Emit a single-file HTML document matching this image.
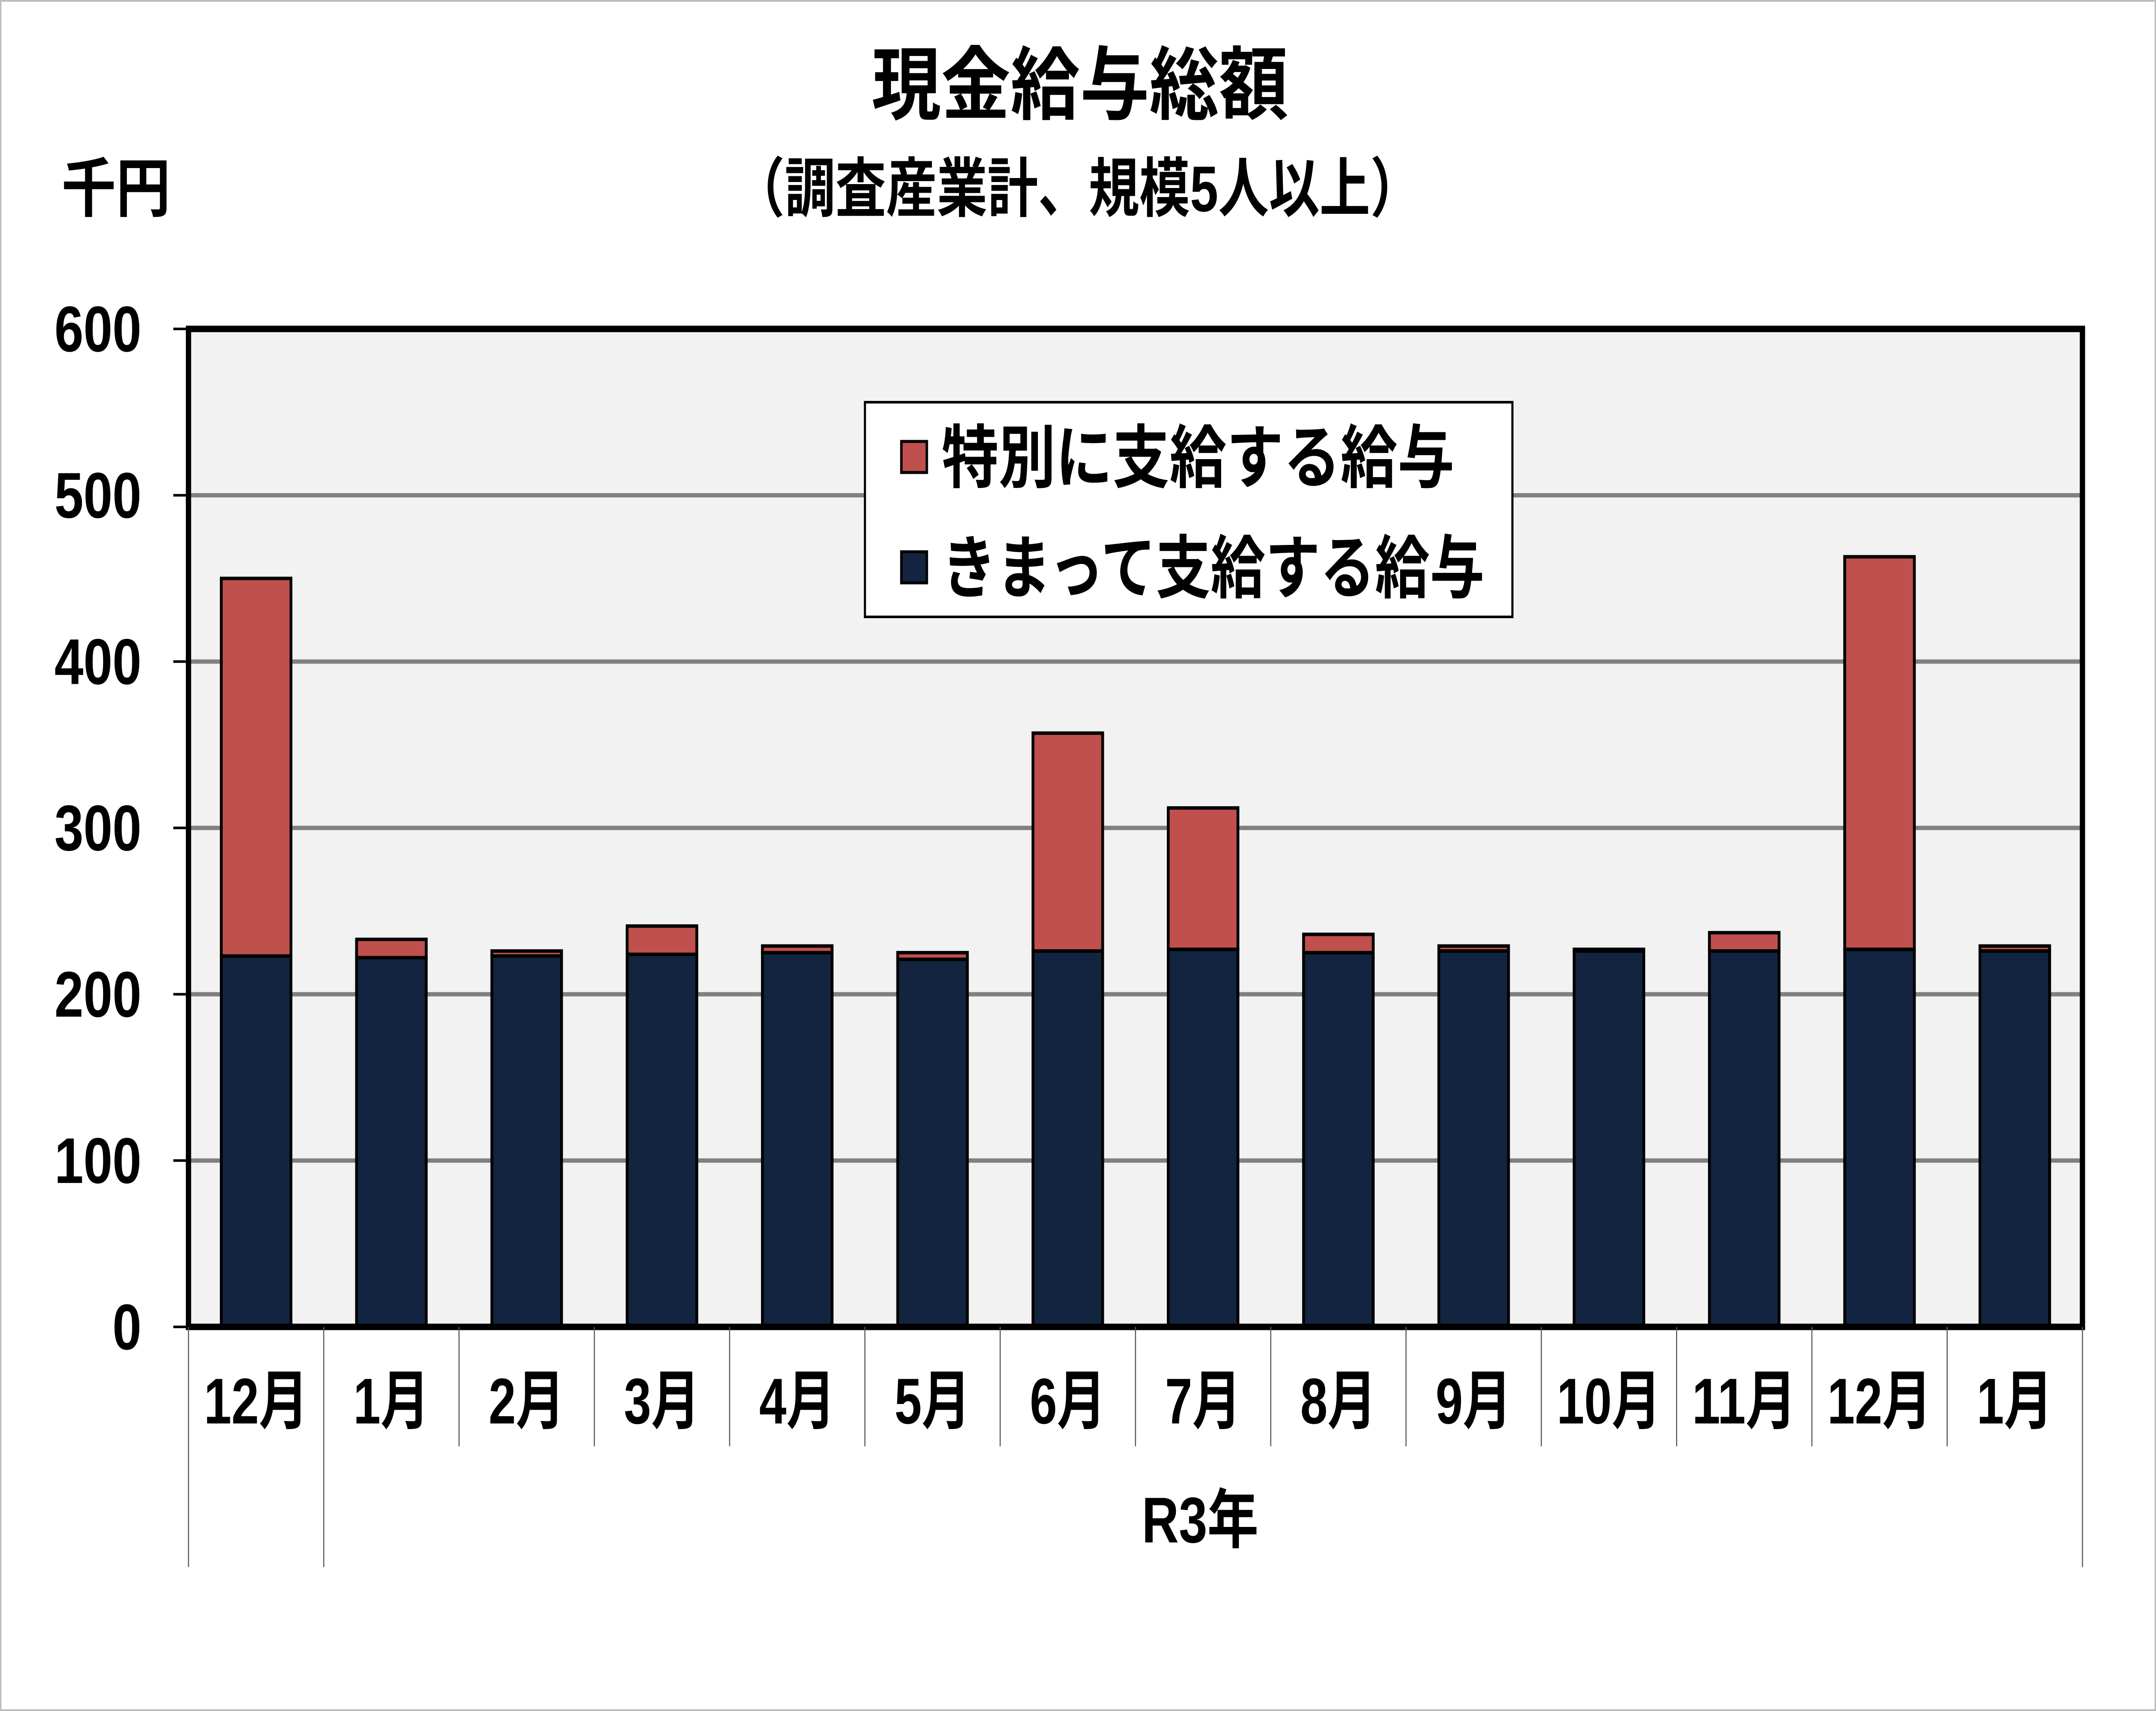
<!DOCTYPE html>
<html><head><meta charset="utf-8"><style>html,body{margin:0;padding:0;background:#fff;overflow:hidden;width:100%;height:100%}svg{display:block;width:100vw;height:100vh}text{font-family:"Liberation Sans","Noto Sans CJK JP",sans-serif;font-weight:bold;fill:#000}</style></head>
<body>
<svg id="chart" viewBox="0 0 6097 3969" preserveAspectRatio="none" xmlns="http://www.w3.org/2000/svg">
<rect x="2" y="2" width="6093" height="3965" fill="#fff" stroke="#bbb" stroke-width="4"/>
<text x="3054" y="262" font-size="185" text-anchor="middle" textLength="1178" lengthAdjust="spacingAndGlyphs">現金給与総額</text>
<text x="3047" y="490" font-size="150" text-anchor="middle" textLength="1942" lengthAdjust="spacingAndGlyphs" font-weight="normal">（調査産業計、規模5人以上）</text>
<text x="174" y="490" font-size="150" textLength="308" lengthAdjust="spacingAndGlyphs">千円</text>
<rect x="533" y="763" width="5356" height="2315" fill="#f2f2f2"/>
<g id="grid"></g>
<g id="bars"></g>
<rect x="533" y="763" width="5356" height="2315" fill="none" stroke="#000" stroke-width="15"/>
<g id="yaxis"></g>
<g id="xaxis"></g>
<g>
<rect x="2446" y="933" width="1831" height="498" fill="#fff" stroke="#000" stroke-width="6"/>
<rect x="2549" y="1024" width="72" height="72" fill="#c0504d" stroke="#000" stroke-width="7"/>
<text x="2663" y="1118" font-size="160" font-weight="normal" textLength="1450" lengthAdjust="spacingAndGlyphs">特別に支給する給与</text>
<rect x="2549" y="1280" width="72" height="72" fill="#12243f" stroke="#000" stroke-width="7"/>
<text x="2663" y="1374" font-size="160" font-weight="normal" textLength="1535" lengthAdjust="spacingAndGlyphs">きまって支給する給与</text>
</g>
<text x="3394" y="3578" font-size="150" text-anchor="middle" textLength="330" lengthAdjust="spacingAndGlyphs">R3年</text>
</svg>
<script>
const categories = ["12月","1月","2月","3月","4月","5月","6月","7月","8月","9月","10月","11月","12月","1月"];
const regular = [223,222,223,224,225,221,226,227,225,226,226,226,227,226];
const special = [227,11,3,17,4,4,131,85,11,3,1,11,236,3];
const yTicks = [0,100,200,300,400,500,600];
const NS="http://www.w3.org/2000/svg";
const X0=533,X1=5889,Y0=3078,Y1=763,YMAX=600;
const yScale=v=>Y0-(v/YMAX)*(Y0-Y1);
const bandW=(X1-X0)/categories.length;
const xCenter=i=>X0+bandW*(i+0.5);
function mk(tag,attrs){const e=document.createElementNS(NS,tag);for(const k in attrs)e.setAttribute(k,attrs[k]);return e;}
const grid=document.getElementById('grid'),bars=document.getElementById('bars'),ya=document.getElementById('yaxis'),xa=document.getElementById('xaxis');
yTicks.forEach(t=>{
  const y=yScale(t);
  if(t>0&&t<YMAX){const g=mk('line',{x1:X0,x2:X1,y1:y,y2:y,stroke:'#808080','stroke-width':10});
    
    
    grid.appendChild(g);}
  const tk=mk('line',{x1:490,x2:533,y1:y,y2:y,stroke:'#000','stroke-width':6});
  
  
  ya.appendChild(tk);
  const s=String(t);
  const lb=mk('text',{x:400,y:y+52,'font-size':150,'text-anchor':'end',textLength:82*s.length,lengthAdjust:'spacingAndGlyphs'});
  lb.textContent=s;
  
  
  ya.appendChild(lb);
});
const bw=bandW*0.515;
categories.forEach((c,i)=>{
  const xc=xCenter(i);
  const r=mk('rect',{x:xc-bw/2,y:yScale(regular[i]),width:bw,height:Y0-yScale(regular[i]),fill:'#12243f',stroke:'#000','stroke-width':8});
  
  
  bars.appendChild(r);
  const top=regular[i]+special[i];
  const s=mk('rect',{x:xc-bw/2,y:yScale(top),width:bw,height:yScale(regular[i])-yScale(top),fill:'#c0504d',stroke:'#000','stroke-width':8});
  
  
  bars.appendChild(s);
  const lab=mk('text',{x:xc,y:3302,'font-size':150,'text-anchor':'middle',textLength:c.length>2?295:215,lengthAdjust:'spacingAndGlyphs'});
  lab.textContent=c;
  
  
  xa.appendChild(lab);
});
for(let i=0;i<=categories.length;i++){
  const x=X0+bandW*i;
  const full=(i===0||i===1||i===categories.length);
  const l=mk('line',{x1:x,x2:x,y1:Y0,y2:full?3635:3355,stroke:'#555','stroke-width':3});
  
  
  xa.appendChild(l);
}
</script>
</body></html>
